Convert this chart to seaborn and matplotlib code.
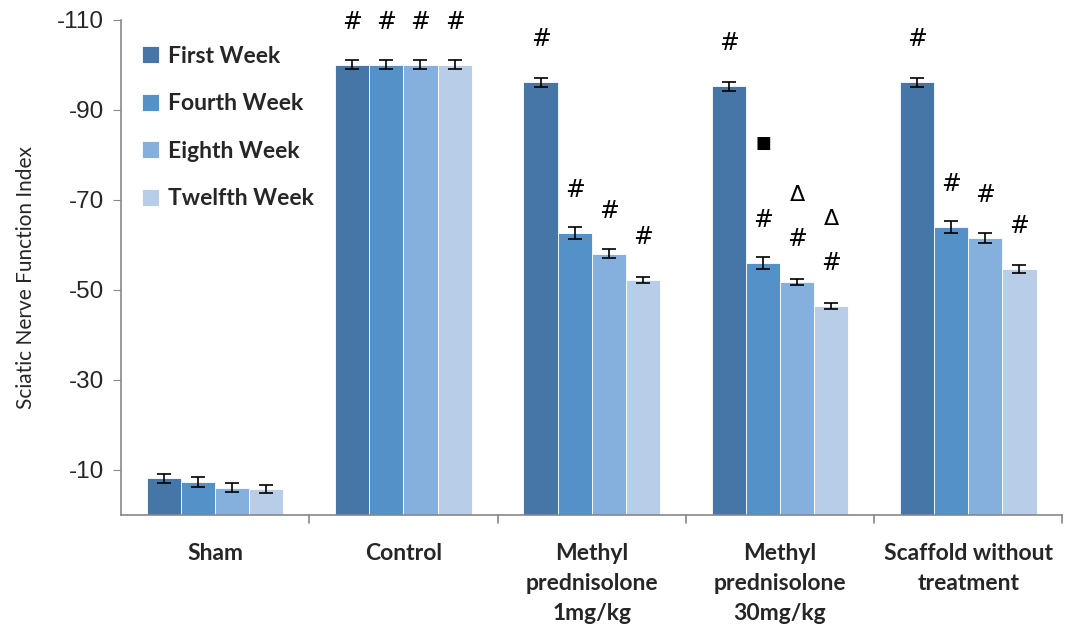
import matplotlib
matplotlib.use("Agg")
import matplotlib.pyplot as plt
import seaborn as sns
import pandas as pd
import numpy as np

groups = ["Sham", "Control", "Methyl\nprednisolone\n1mg/kg", "Methyl\nprednisolone\n30mg/kg", "Scaffold without\ntreatment"]
weeks = ["First Week", "Fourth Week", "Eighth Week", "Twelfth Week"]
first_week = [-8.2, -100.0, -96.2, -95.3, -96.2]
fourth_week = [-7.4, -100.0, -62.7, -56.0, -64.0]
eighth_week = [-6.1, -100.0, -58.0, -51.8, -61.6]
twelfth_week = [-5.8, -100.0, -52.2, -46.4, -54.7]
first_err = [1.0, 1.0, 1.0, 1.0, 1.0]
fourth_err = [1.1, 1.0, 1.4, 1.4, 1.3]
eighth_err = [1.1, 1.0, 1.0, 0.7, 1.1]
twelfth_err = [0.9, 1.0, 0.7, 0.7, 0.9]
# annotation marks per bar
first_marks = [[], ["#"], ["#"], ["#"], ["#"]]
fourth_marks = [[], ["#"], ["#"], ["#", "\u25A0"], ["#"]]
eighth_marks = [[], ["#"], ["#"], ["#", "\u0394"], ["#"]]
twelfth_marks = [[], ["#"], ["#"], ["#", "\u0394"], ["#"]]

colors = ["#4676a8", "#5591c9", "#85afdc", "#b8cde8"]

rows = []
for w, vals in zip(weeks, [first_week, fourth_week, eighth_week, twelfth_week]):
    for g, v in zip(groups, vals):
        rows.append({"group": g, "week": w, "value": v})
df = pd.DataFrame(rows)

sns.set_style("white")
plt.rcParams["font.family"] = ["Liberation Sans", "DejaVu Sans"]
plt.rcParams["axes.unicode_minus"] = False

fig = plt.figure(figsize=(10.65, 6.34), dpi=100)
ax = fig.add_axes([0.1136, 0.1877, 0.884, 0.7808])

sns.barplot(data=df, x="group", y="value", hue="week", order=groups, hue_order=weeks,
            palette=colors, errorbar=None, width=0.725, saturation=1, ax=ax,
            edgecolor="white", linewidth=0.6)

errs = [first_err, fourth_err, eighth_err, twelfth_err]
vals_all = [first_week, fourth_week, eighth_week, twelfth_week]
marks_all = [first_marks, fourth_marks, eighth_marks, twelfth_marks]
mark_offset = {"#": 43, "\u0394": 87, "\u25A0": 120}
mark_size = {"#": 17, "\u0394": 16, "\u25A0": 12}
bar_conts = list(ax.containers)
for ci, cont in enumerate(bar_conts):
    for gi, patch in enumerate(cont.patches):
        xc = patch.get_x() + patch.get_width() / 2
        v = vals_all[ci][gi]
        ax.errorbar(xc, v, yerr=errs[ci][gi], fmt="none", ecolor="black",
                    elinewidth=1.2, capsize=5, capthick=1.2, zorder=5)
        for m in marks_all[ci][gi]:
            ax.annotate(m, (xc, v), xytext=(0, mark_offset[m]), textcoords="offset pixels",
                        ha="center", va="center", fontsize=mark_size[m], color="black",
                        family=["DejaVu Sans"])

ax.set_ylim(0, -110)
ax.set_yticks([-110, -90, -70, -50, -30, -10])
ax.set_xlim(-0.5, 4.5)
ax.set_xticks([0, 1, 2, 3, 4])
ax.set_xticklabels(groups, fontsize=16.5, fontweight="bold", family=["Lato", "DejaVu Sans"],
                   linespacing=1.55)
ax.tick_params(axis="x", length=0, pad=20)
ax.tick_params(axis="y", labelsize=17.5, length=6, direction="out", left=True, color="#888888", pad=6)
for xb in [0.5, 1.5, 2.5, 3.5, 4.5]:
    ax.plot([xb, xb], [0, 1.7], color="#888888", lw=1.2, clip_on=False, zorder=6)
ax.set_xlabel("")
ax.set_ylabel("Sciatic Nerve Function Index", fontsize=15, family=["Lato", "DejaVu Sans"])
ax.yaxis.set_label_coords(-0.09, 0.48)

for s in ["top", "right"]:
    ax.spines[s].set_visible(False)
for s in ["left", "bottom"]:
    ax.spines[s].set_color("#888888")
    ax.spines[s].set_linewidth(1.2)

leg = ax.legend(loc="upper left", bbox_to_anchor=(0.0, 0.99), frameon=False,
                prop={"family": ["Lato", "DejaVu Sans"], "weight": "bold", "size": 16.5},
                handlelength=0.75, handleheight=0.75, handletextpad=0.4, labelspacing=1.16)

fig.savefig("out.png", dpi=100)
